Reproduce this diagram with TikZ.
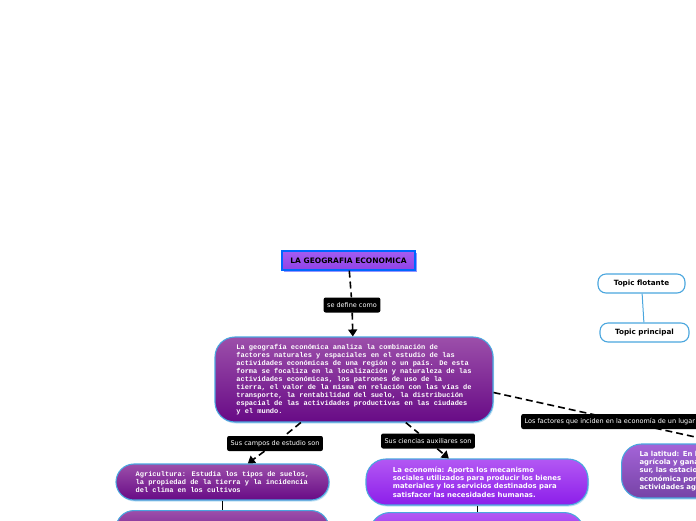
\documentclass[tikz,border=0pt]{standalone}
\usepackage{fontspec}
\setmainfont{DejaVu Sans}
\newfontfamily\boxmono{Liberation Mono}
\usetikzlibrary{arrows.meta,positioning,shadows}

\definecolor{edgeblue}{HTML}{4AA6DE}
\definecolor{titletop}{HTML}{A35CF2}
\definecolor{titlebot}{HTML}{9042E6}
\definecolor{deftop}{HTML}{9C4FAA}
\definecolor{defbot}{HTML}{680B86}
\definecolor{ecotop}{HTML}{B358F3}
\definecolor{ecobot}{HTML}{8C1EEA}
\definecolor{lattop}{HTML}{A464D8}
\definecolor{latbot}{HTML}{7643A6}

\begin{document}
\begin{tikzpicture}[x=1pt,y=-1pt,>={Triangle[width=9pt,length=7pt]},
    link/.style={draw=black,line width=1.6pt,dash pattern=on 7pt off 4pt},
    tag/.style={fill=black,text=white,rounded corners=2pt,inner xsep=3.5pt,
      minimum height=15pt,font=\fontsize{6.5}{7}\selectfont},
    idea/.style={draw=edgeblue,line width=1.1pt,text=white,align=left,
      drop shadow={shadow xshift=1pt,shadow yshift=-1.5pt,fill=edgeblue,opacity=.35}},
    monotext/.style={font=\boxmono\bfseries\fontsize{7}{8}\selectfont},
    sanstext/.style={font=\bfseries\fontsize{6.9}{8.3}\selectfont},
    floatbox/.style={draw=edgeblue,line width=1.1pt,fill=white,rounded corners=8pt,
      font=\bfseries\fontsize{7.2}{8}\selectfont}]
    \useasboundingbox (0,0) rectangle (696,520);
    \clip (0,0) rectangle (696,520);

    % central topic
    \node[draw=blue!60!cyan,line width=1.1pt,top color=titletop,bottom color=titlebot,
      minimum width=133pt,minimum height=19pt,font=\bfseries\fontsize{7.5}{8}\selectfont,
      drop shadow={shadow xshift=1.5pt,shadow yshift=-1.5pt,fill=blue!70,opacity=.6}]
      (title) at (348.5,260.5) {LA GEOGRAFIA ECONOMICA};

    \node[tag] (defin) at (352,305) {se define como};

    \node[idea,monotext,rounded corners=20pt,top color=deftop,bottom color=defbot,
      minimum width=278pt,minimum height=85pt] (def) at (354,379.5)
      {La geografía económica analiza la combinación de\\
       factores naturales y espaciales en el estudio de las\\
       actividades económicas de una región o un país. De esta\\
       forma se focaliza en la localización y naturaleza de las\\
       actividades económicas, los patrones de uso de la\\
       tierra, el valor de la misma en relación con las vías de\\
       transporte, la rentabilidad del suelo, la distribución\\
       espacial de las actividades productivas en las ciudades\\
       y el mundo.};

    \draw[link,->] (title) -- (defin) -- (def);

    % campos de estudio
    \node[tag] (campos) at (275,443.5) {Sus campos de estudio son};

    \node[idea,monotext,rounded corners=18pt,top color=deftop,bottom color=defbot,
      minimum width=213pt,minimum height=36pt] (agri) at (222.5,482)
      {Agricultura: Estudia los tipos de suelos,\\
       la propiedad de la tierra y la incidencia\\
       del clima en los cultivos};
    \node[idea,monotext,rounded corners=18pt,top color=deftop,bottom color=defbot,
      minimum width=213pt,minimum height=40pt,anchor=north,text width=187pt,
      inner ysep=5pt] (ganad) at (222.5,510)
      {Ganadería: Estudia las razas, mercados\\ y la producción\vfill};

    \draw[link,->] (def) -- (campos) -- (agri);
    \draw[line width=1pt] (agri) -- (ganad);

    % ciencias auxiliares
    \node[tag] (ciencias) at (428,441) {Sus ciencias auxiliares son};

    \node[idea,sanstext,rounded corners=20pt,top color=ecotop,bottom color=ecobot,
      minimum width=222pt,minimum height=46pt] (eco) at (477,482)
      {La economía: Aporta los mecanismo\\
       sociales utilizados para producir los bienes\\
       materiales y los servicios destinados para\\
       satisfacer las necesidades humanas.};
    \node[idea,sanstext,rounded corners=20pt,top color=ecotop,bottom color=ecobot,
      minimum width=214pt,minimum height=40pt,anchor=north,text width=180pt,
      inner ysep=5pt] (hist) at (477,512)
      {La historia: Constituye la fuente de\\ información del pasado};

    \draw[link,->] (def) -- (ciencias) -- (eco);
    \draw[line width=1pt] (eco) -- (hist);

    % factores
    \node[idea,sanstext,rounded corners=20pt,top color=lattop,bottom color=latbot,
      minimum width=200pt,minimum height=54pt,anchor=west,text width=170pt,
      inner xsep=18pt] (lat) at (621,471)
      {La latitud: En la zona\\
       agrícola y ganadera del norte y\\
       sur, las estaciones marcan la vida\\
       económica por el ritmo de las\\
       actividades agrícolas};
    \draw[link,->] ([yshift=-13pt]def.east) -- (lat.north);
    \node[tag,anchor=west] (factores) at (521,421.5)
      {Los factores que inciden en la economía de un lugar};

    % topics
    \node[floatbox,minimum width=87pt,minimum height=19pt] (flot) at (641.5,283.5) {Topic flotante};
    \node[floatbox,minimum width=89pt,minimum height=19pt] (princ) at (644.5,332.5) {Topic principal};
    \draw[edgeblue,line width=1pt] (flot) -- (princ);
\end{tikzpicture}
\end{document}
